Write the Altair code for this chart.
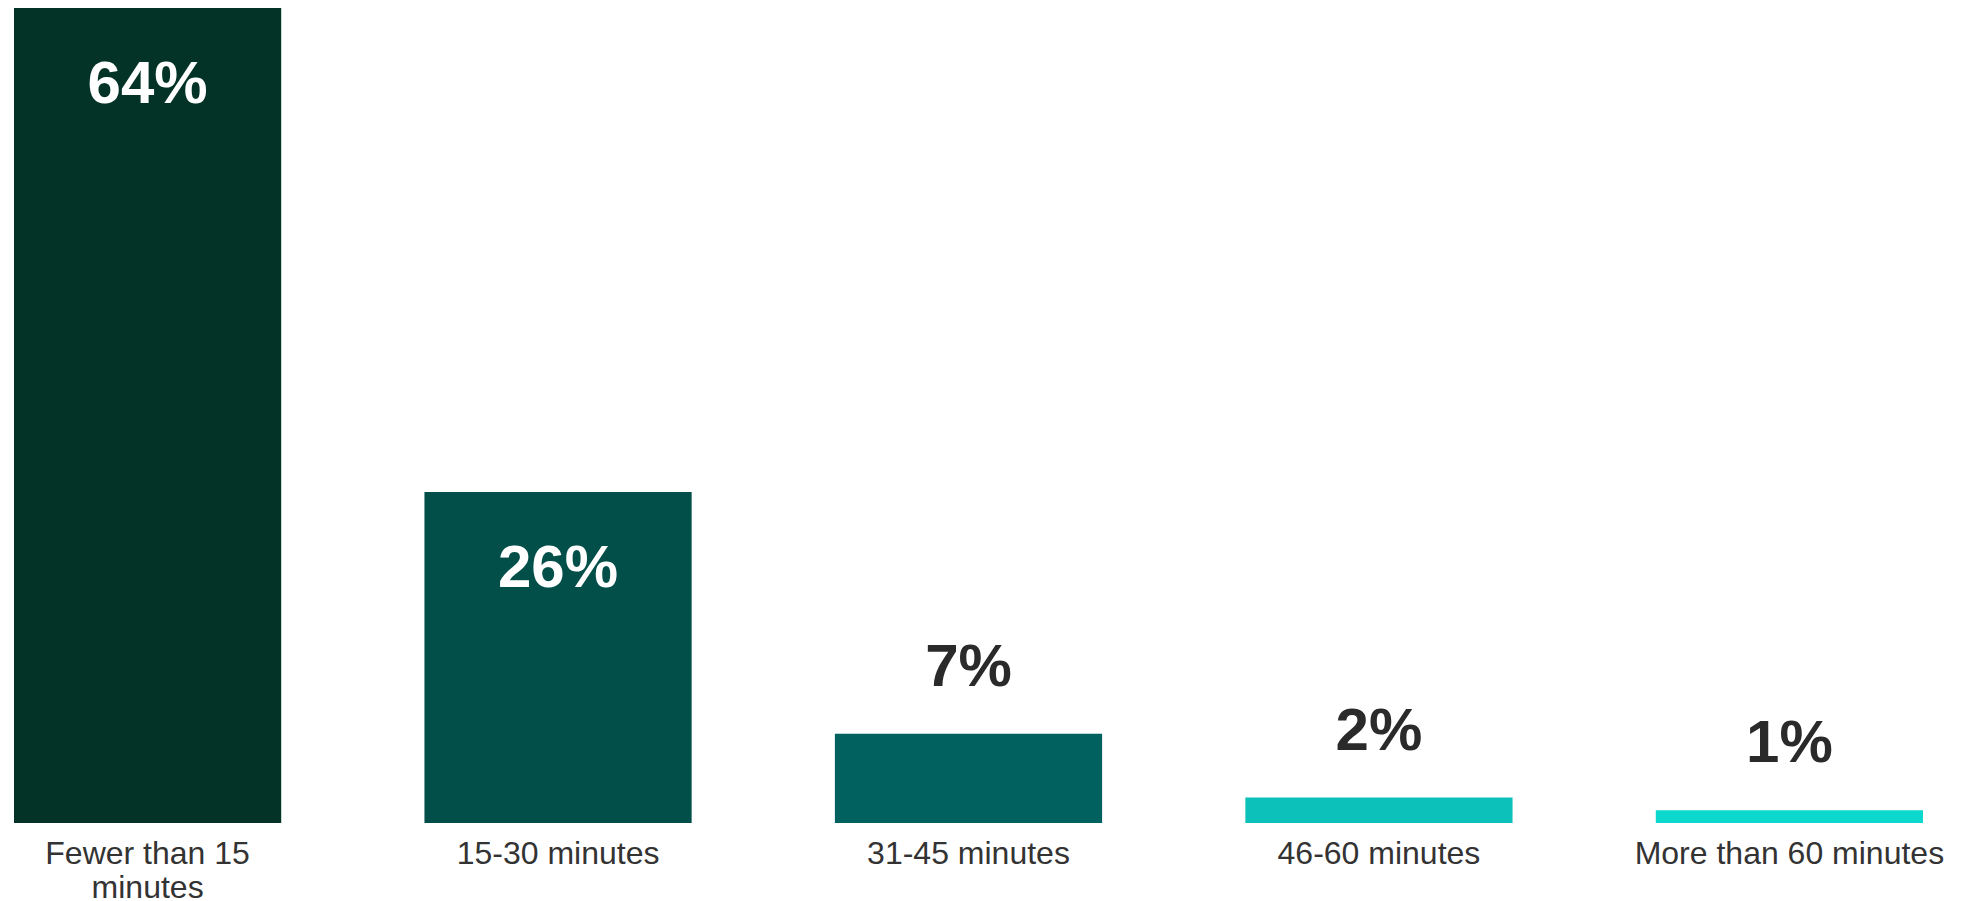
import altair as alt
import pandas as pd

categories = ["Fewer than 15 minutes", "15-30 minutes", "31-45 minutes", "46-60 minutes", "More than 60 minutes"]
values = [64, 26, 7, 2, 1]
colors = ["#033327", "#024F4A", "#00615E", "#0BC1BA", "#0DD8CD"]

df = pd.DataFrame({"cat": categories, "value": values, "color": colors})
df["label"] = df["value"].astype(str) + "%"

x = alt.X("cat:N", sort=categories, title=None,
          scale=alt.Scale(paddingInner=0.349, paddingOuter=0),
          axis=alt.Axis(labelAngle=0, ticks=False, domain=False, grid=False,
                        labelFont="Liberation Sans", labelFontSize=32, labelColor="#333333",
                        labelPadding=15, labelLineHeight=34, labelLimit=400,
                        labelExpr="datum.label == 'Fewer than 15 minutes' ? ['Fewer than 15', 'minutes'] : datum.label"))
y = alt.Y("value:Q", scale=alt.Scale(domain=[0, 64], nice=False), axis=None)

base = alt.Chart(df)
bars = base.mark_bar().encode(x=x, y=y, color=alt.Color("color:N", scale=None))
inside = base.transform_filter("datum.value >= 20").mark_text(
    font="Liberation Sans", fontSize=60, fontWeight="bold", color="white",
    baseline="alphabetic", dy=95).encode(x=x, y=y, text="label:N")
outside = base.transform_filter("datum.value < 20").mark_text(
    font="Liberation Sans", fontSize=60, fontWeight="bold", color="#2a2a2a",
    baseline="alphabetic", dy=-48).encode(x=x, y=y, text="label:N")

chart = (bars + inside + outside).properties(
    width=1909, height=815, background="white",
    padding={"left": 6, "top": 0, "right": 5, "bottom": 0}
).configure_view(stroke=None)

chart.save("out.html", embed_options={"renderer": "svg", "actions": False})
